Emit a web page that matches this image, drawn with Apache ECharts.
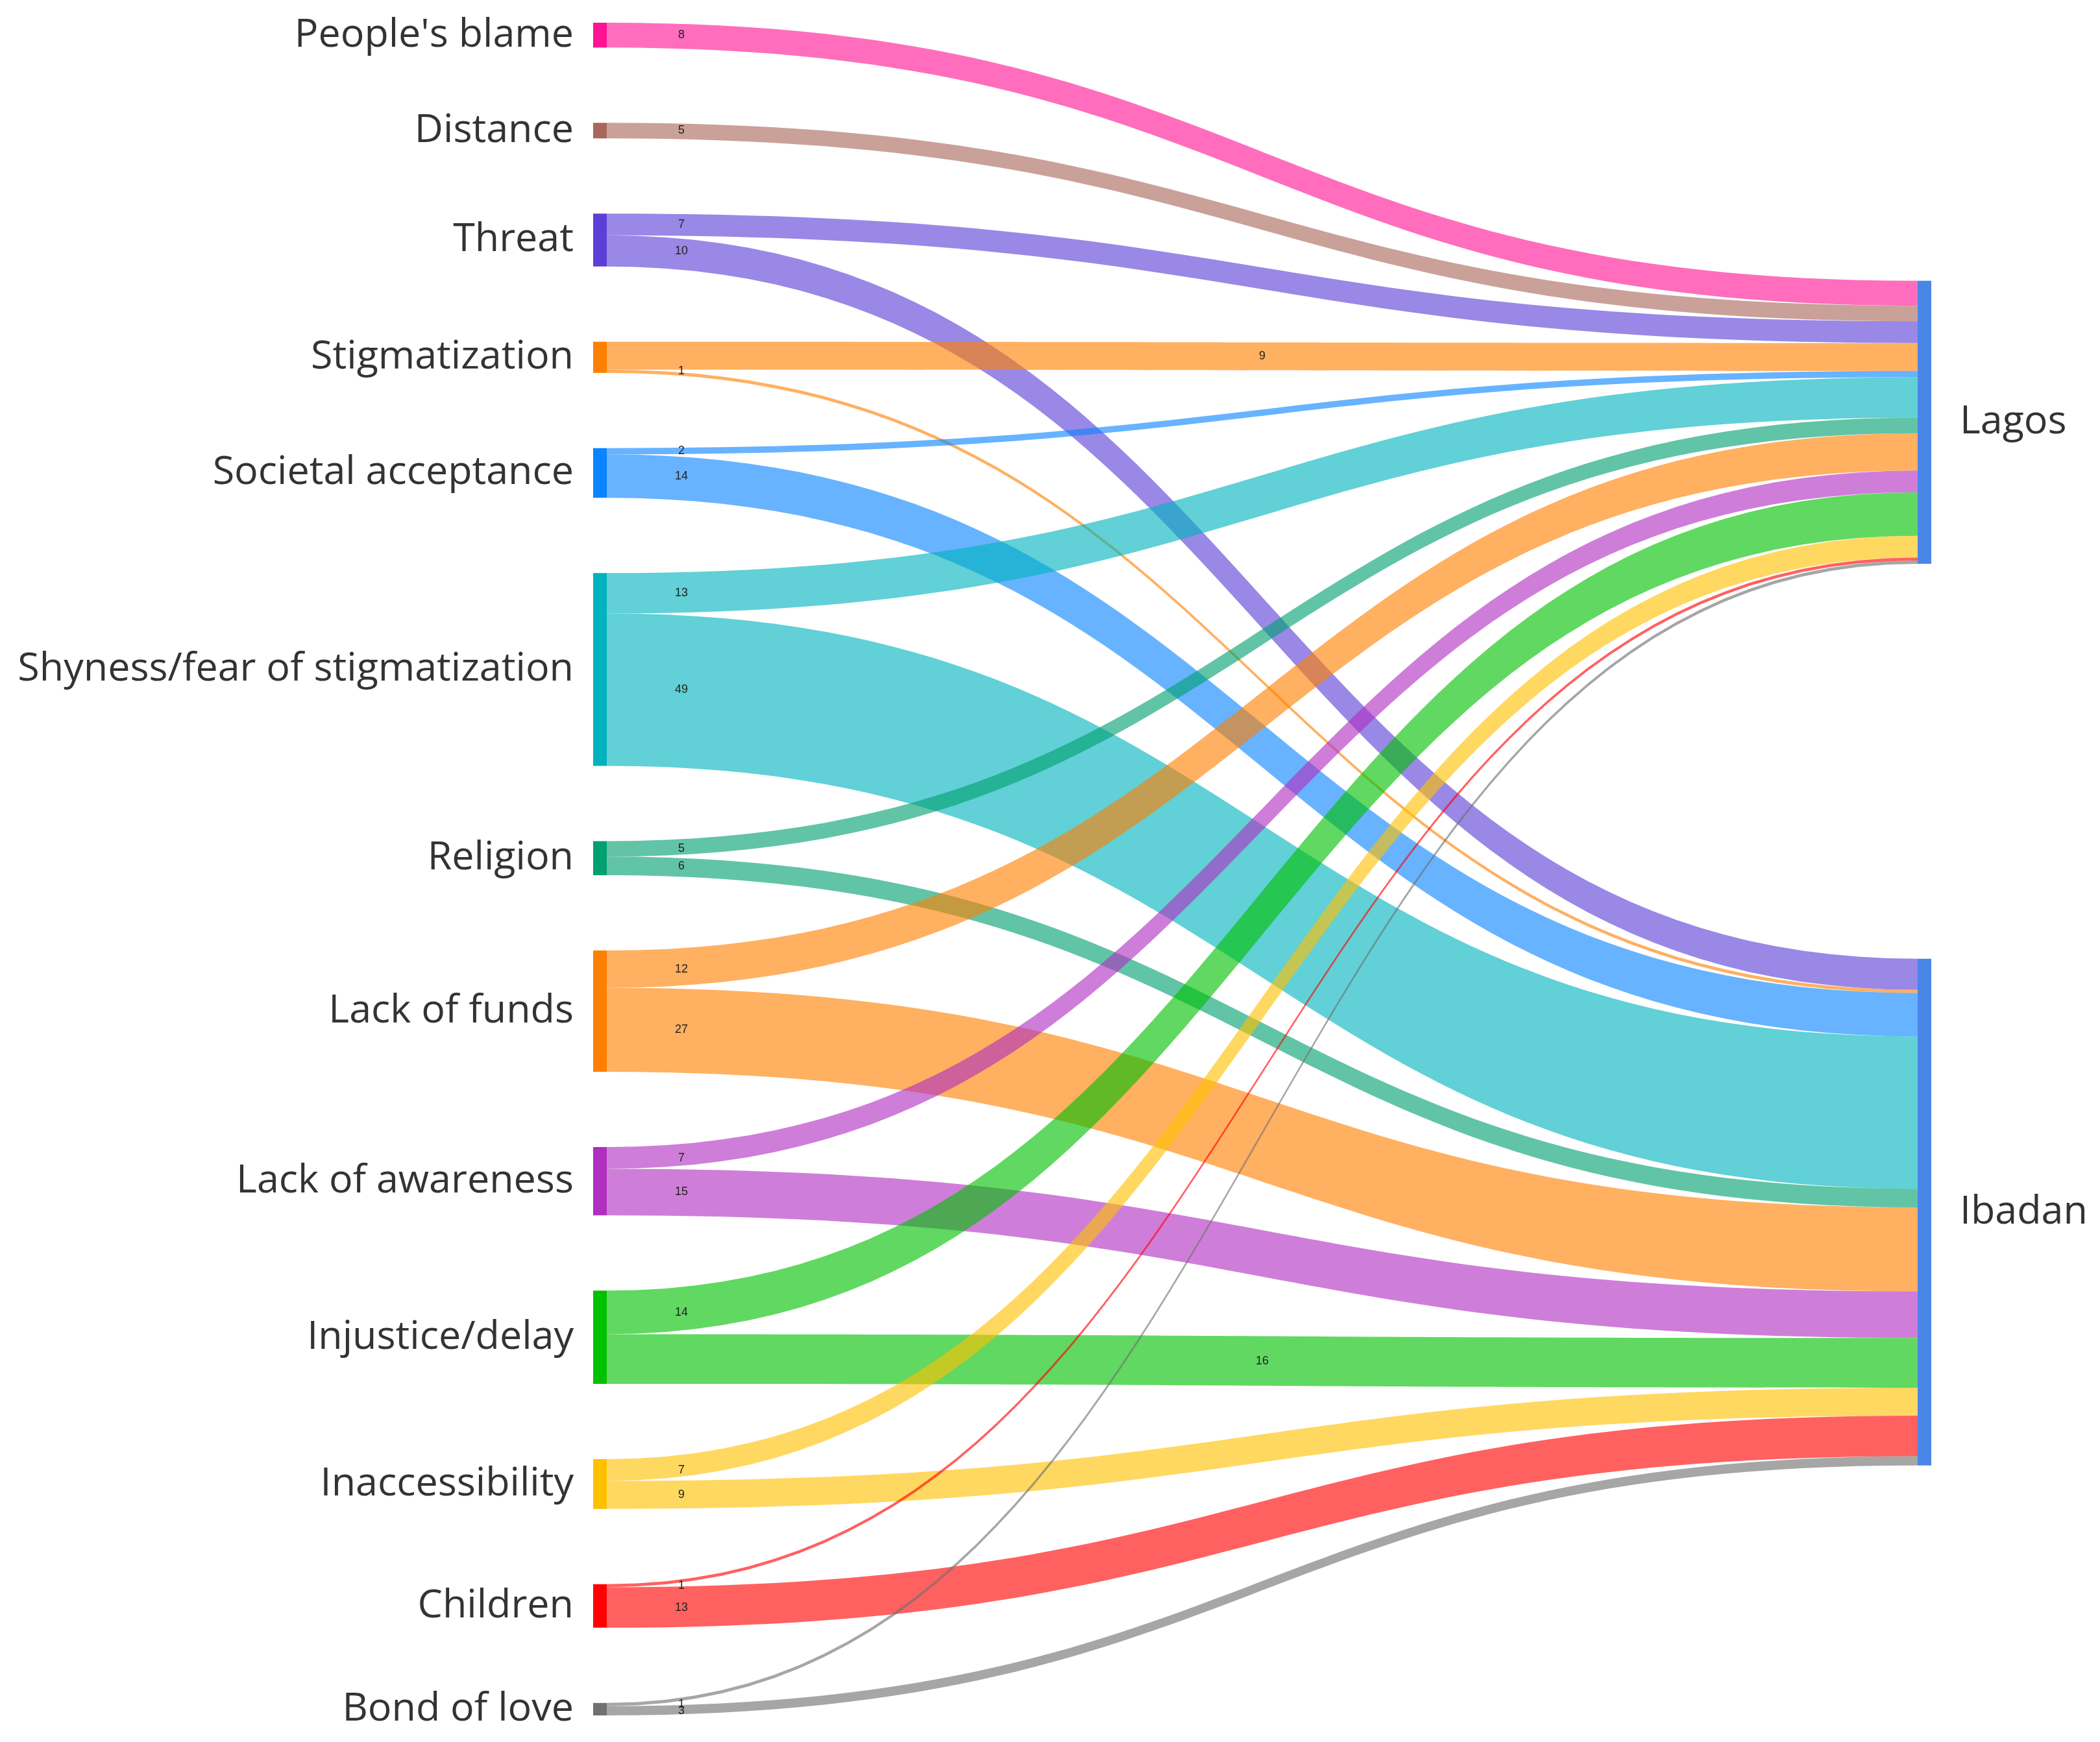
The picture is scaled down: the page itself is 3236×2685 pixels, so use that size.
<!DOCTYPE html>
<html>
<head>
<meta charset="utf-8">
<script src="https://cdn.jsdelivr.net/npm/echarts@6/dist/echarts.min.js"></script>
<style>
html,body{margin:0;padding:0;background:#fff;}
#chart{width:3236px;height:2685px;}
</style>
</head>
<body>
<div id="chart"></div>
<script>
// Source categories (left column), top to bottom
const sources = [
  "People's blame", "Distance", "Threat", "Stigmatization", "Societal acceptance",
  "Shyness/fear of stigmatization", "Religion", "Lack of funds", "Lack of awareness",
  "Injustice/delay", "Inaccessibility", "Children", "Bond of love"
];
// Target cities (right column)
const targets = ["Lagos", "Ibadan"];
// Link values per source (estimated from band widths)
const toLagos  = [8, 5, 7, 9, 2, 13, 5, 12, 7, 14, 7, 1, 1];
const toIbadan = [0, 0, 10, 1, 14, 49, 6, 27, 15, 16, 9, 13, 3];
// Node colours
const sourceColors = [
  "#ff1493", "#a8675a", "#5b3fd6", "#ff8000", "#0a84ff",
  "#00b3bf", "#00a070", "#ff8000", "#b02ec0",
  "#00c000", "#ffc000", "#ff0000", "#707070"
];
const targetColor = "#4a86e8";

const FONT = "'Open Sans', 'Noto Sans', sans-serif";

const nodes = sources.map((name, i) => ({
  name,
  itemStyle: { color: sourceColors[i] },
  label: { position: 'left', distance: 30 }
}));
// vertical placement of the two city nodes (layout fractions)
const targetLocalY = { "Lagos": 0.1525, "Ibadan": 0.553 };
targets.forEach(name => {
  nodes.push({
    name,
    localY: targetLocalY[name],
    itemStyle: { color: targetColor },
    label: { position: 'right', distance: 44 }
  });
});

const links = [];
sources.forEach((s, i) => {
  if (toLagos[i] > 0) links.push({ source: s, target: "Lagos", value: toLagos[i] });
  if (toIbadan[i] > 0) links.push({ source: s, target: "Ibadan", value: toIbadan[i] });
});

const chart = echarts.init(document.getElementById('chart'), null, { renderer: 'canvas' });
const baseOption = {
  backgroundColor: '#ffffff',
  animation: false,
  series: [{
    type: 'sankey',
    left: 914,
    right: 260,
    top: 35,
    bottom: 41,
    nodeWidth: 21,
    nodeGap: 116,
    layoutIterations: 0,
    draggable: false,
    emphasis: { disabled: true },
    data: nodes,
    links: links,
    itemStyle: { borderWidth: 0 },
    lineStyle: { color: 'source', opacity: 0.62, curveness: 0.5 },
    label: {
      show: true,
      fontFamily: FONT,
      fontSize: 61,
      color: '#333333'
    },
    edgeLabel: {
      show: true,
      fontSize: 18,
      color: '#222',
      formatter: p => String(p.value)
    }
  }]
};
chart.setOption(baseOption);

// Move each link's value label near its source end (as in the original),
// using the link geometry computed by the sankey layout.
try {
  const series = chart.getModel().getSeriesByIndex(0);
  const graph = series.getGraph();
  const H = series.layoutInfo.height;
  const W = series.layoutInfo.width;
  const newLinks = links.map(l => Object.assign({}, l));
  graph.edges.forEach(edge => {
    const el = edge.getLayout();
    const n1 = edge.node1.getLayout();
    const n2 = edge.node2.getLayout();
    const lx1 = edge.node1.getModel().get('localX');
    const ly1 = edge.node1.getModel().get('localY');
    const lx2 = edge.node2.getModel().get('localX');
    const ly2 = edge.node2.getModel().get('localY');
    const x1 = (lx1 != null ? lx1 * W : n1.x) + n1.dx;
    const x2 = (lx2 != null ? lx2 * W : n2.x);
    const y1 = (ly1 != null ? ly1 * H : n1.y) + el.sy;
    const y2 = (ly2 != null ? ly2 * H : n2.y) + el.ty;
    const idx = edge.dataIndex;
    if (Math.abs(y1 - y2) > 40) {
      newLinks[idx].edgeLabel = { offset: [115 - (x2 - x1) / 2, (y1 - y2) / 2] };
    }
  });
  chart.setOption({ series: [{ links: newLinks }] });
} catch (e) { console.log(e); }
</script>
</body>
</html>
